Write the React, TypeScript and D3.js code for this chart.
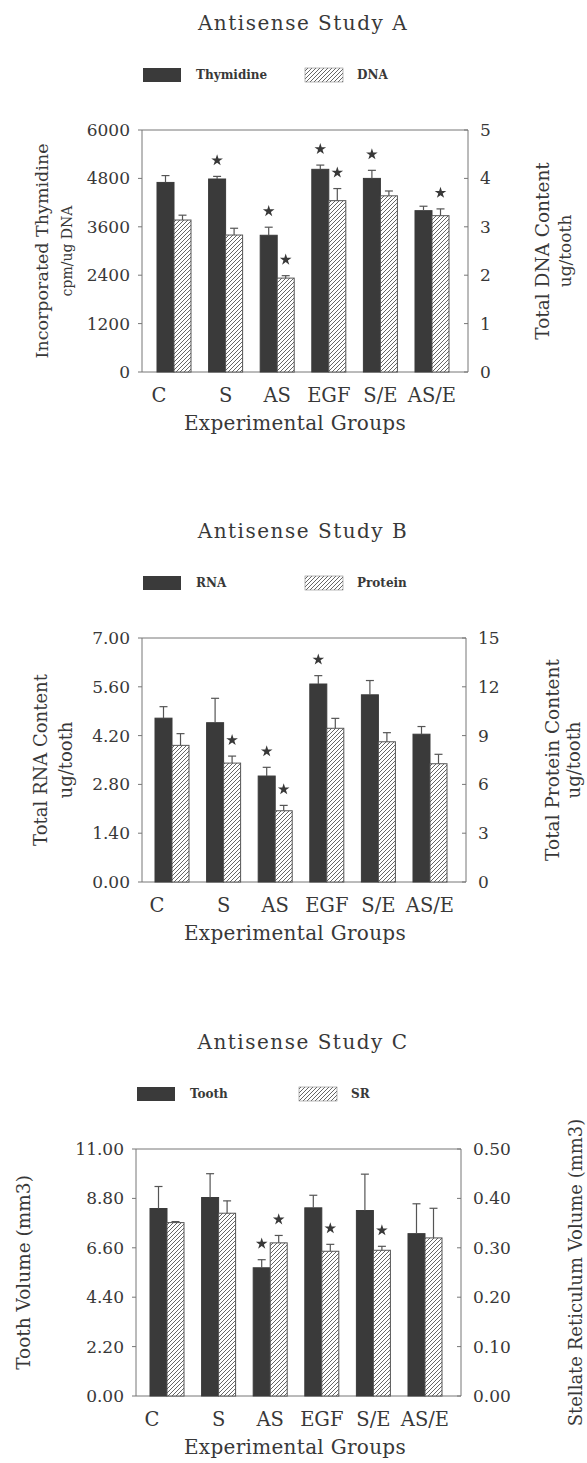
import React from "react";
import * as d3 from "d3";

const groups = ["C", "S", "AS", "EGF", "S/E", "AS/E"];

// Study A
const thymidine = [4700, 4785, 3390, 5025, 4800, 4000];
const thymidineErr = [170, 65, 200, 105, 200, 110];
const thymidineStar = [false, true, true, true, true, false];
const dna = [3.14, 2.83, 1.94, 3.54, 3.64, 3.23];
const dnaErr = [0.1, 0.14, 0.05, 0.25, 0.1, 0.14];
const dnaStar = [false, false, true, true, false, true];
const ticksA_left = [0, 1200, 2400, 3600, 4800, 6000];
const ticksA_right = [0, 1, 2, 3, 4, 5];

// Study B
const rna = [4.7, 4.57, 3.04, 5.68, 5.37, 4.24];
const rnaErr = [0.33, 0.7, 0.25, 0.24, 0.41, 0.22];
const rnaStar = [false, false, true, true, false, false];
const protein = [8.4, 7.31, 4.38, 9.45, 8.62, 7.27];
const proteinErr = [0.72, 0.43, 0.33, 0.61, 0.56, 0.58];
const proteinStar = [false, true, true, false, false, false];
const ticksB_left = [0, 1.4, 2.8, 4.2, 5.6, 7.0];
const ticksB_right = [0, 3, 6, 9, 12, 15];

// Study C
const tooth = [8.35, 8.84, 5.71, 8.38, 8.26, 7.23];
const toothErr = [0.98, 1.06, 0.36, 0.56, 1.62, 1.33];
const toothStar = [false, false, true, false, false, false];
const sr = [0.351, 0.37, 0.31, 0.293, 0.295, 0.32];
const srErr = [0.002, 0.025, 0.015, 0.014, 0.008, 0.06];
const srStar = [false, false, true, true, true, false];
const ticksC_left = [0, 2.2, 4.4, 6.6, 8.8, 11.0];
const ticksC_right = [0, 0.1, 0.2, 0.3, 0.4, 0.5];

const FONT = "'DejaVu Serif', 'Liberation Serif', serif";
const INK = "#383838";
const DARK = "#3a3a3a";
const AXIS = "#777";

type Series = { label: string; values: number[]; err: number[]; star: boolean[] };
type Cfg = {
  title: string;
  s1: Series;
  s2: Series;
  leftTicks: number[];
  rightTicks: number[];
  leftFmt: (v: number) => string;
  rightFmt: (v: number) => string;
  leftTitle: string[];
  rightTitle: string[];
  geo: { left: number; right: number; top: number; bottom: number; barStart: number };
  lt: number[];
  rt: number[];
  ltSize: number[];
  rtSize: number[];
};

const catDx: Record<string, number> = { C: -15 };
const starPath = d3.symbol().type(d3.symbolStar).size(42)() as string;

function Panel({ cfg }: { cfg: Cfg }) {
  const { left, right, top, bottom, barStart } = cfg.geo;
  const x = d3
    .scaleBand<string>()
    .domain(groups)
    .range([barStart, barStart + 292])
    .paddingInner(0.341)
    .paddingOuter(0);
  const xs = d3.scaleBand<string>().domain(["a", "b"]).range([0, x.bandwidth()]);
  const yL = d3
    .scaleLinear()
    .domain([0, cfg.leftTicks[cfg.leftTicks.length - 1]])
    .range([bottom, top]);
  const yR = d3
    .scaleLinear()
    .domain([0, cfg.rightTicks[cfg.rightTicks.length - 1]])
    .range([bottom, top]);
  const midY = (top + bottom) / 2;
  const midX = 303;
  const bw = xs.bandwidth();

  const renderSeries = (s: Series, key: "a" | "b", y: d3.ScaleLinear<number, number>) =>
    groups.map((g, i) => {
      const bx = (x(g) as number) + (xs(key) as number);
      const yt = y(s.values[i]);
      const ye = y(s.values[i] + s.err[i]);
      const cx = bx + bw / 2;
      return (
        <g key={key + g}>
          <rect
            x={bx}
            y={yt}
            width={bw}
            height={bottom - yt}
            fill={key === "a" ? DARK : "url(#hatch)"}
            stroke={key === "a" ? DARK : "#555"}
            strokeWidth={1}
          />
          <line x1={cx} x2={cx} y1={yt} y2={ye} stroke="#555" strokeWidth={1.2} />
          <line x1={cx - 4} x2={cx + 4} y1={ye} y2={ye} stroke="#555" strokeWidth={1.2} />
          {s.star[i] && (
            <path d={starPath} transform={`translate(${cx},${ye - 16})`} fill={INK} />
          )}
        </g>
      );
    });

  return (
    <g fontFamily={FONT} fill={INK}>
      <text
        x={midX}
        y={top - 107}
        textAnchor="middle"
        dominantBaseline="central"
        fontSize={20}
        letterSpacing={1.5}
      >
        {cfg.title}
      </text>
      {/* legend */}
      <rect x={left + 1} y={top - 62} width={38} height={14} fill={DARK} />
      <text x={left + 54} y={top - 55} dominantBaseline="central" fontSize={12} fontWeight={700}>
        {cfg.s1.label}
      </text>
      <rect x={left + 163} y={top - 62} width={38} height={14} fill="url(#hatch)" stroke="#888" strokeWidth={0.6} />
      <text x={left + 215} y={top - 55} dominantBaseline="central" fontSize={12} fontWeight={700}>
        {cfg.s2.label}
      </text>

      {/* frame */}
      <line x1={left} x2={right} y1={top} y2={top} stroke={AXIS} />
      <line x1={left} x2={right} y1={bottom} y2={bottom} stroke={AXIS} />
      <line x1={left} x2={left} y1={top} y2={bottom} stroke={AXIS} />
      <line x1={right} x2={right} y1={top} y2={bottom} stroke={AXIS} />

      {renderSeries(cfg.s1, "a", yL)}
      {renderSeries(cfg.s2, "b", yR)}

      {/* left ticks */}
      {cfg.leftTicks.map((t) => (
        <g key={"l" + t}>
          <line x1={left - 4} x2={left} y1={yL(t)} y2={yL(t)} stroke={AXIS} />
          <text x={left - 12} y={yL(t)} textAnchor="end" dominantBaseline="central" fontSize={17}>
            {cfg.leftFmt(t)}
          </text>
        </g>
      ))}
      {cfg.rightTicks.map((t) => (
        <g key={"r" + t}>
          <line x1={right - 4} x2={right} y1={yR(t)} y2={yR(t)} stroke={AXIS} />
          <text x={right + 12} y={yR(t)} textAnchor="start" dominantBaseline="central" fontSize={17}>
            {cfg.rightFmt(t)}
          </text>
        </g>
      ))}

      {/* category labels */}
      {groups.map((g) => (
        <text
          key={"c" + g}
          x={(x(g) as number) + x.bandwidth() / 2 + (catDx[g] || 0)}
          y={bottom + 23}
          textAnchor="middle"
          dominantBaseline="central"
          fontSize={19.5}
        >
          {g}
        </text>
      ))}
      <text
        x={midX - 8}
        y={bottom + 51}
        textAnchor="middle"
        dominantBaseline="central"
        fontSize={20}
        letterSpacing={0.3}
      >
        Experimental Groups
      </text>

      {/* axis titles */}
      {cfg.leftTitle.map((t, i) => (
        <text
          key={"lt" + i}
          transform={`translate(${cfg.lt[i]},${midY}) rotate(-90)`}
          textAnchor="middle"
          dominantBaseline="central"
          fontSize={cfg.ltSize[i]}
        >
          {t}
        </text>
      ))}
      {cfg.rightTitle.map((t, i) => (
        <text
          key={"rt" + i}
          transform={`translate(${cfg.rt[i]},${midY}) rotate(-90)`}
          textAnchor="middle"
          dominantBaseline="central"
          fontSize={cfg.rtSize[i]}
        >
          {t}
        </text>
      ))}
    </g>
  );
}

const fmtInt = d3.format("d");
const fmt2 = d3.format(".2f");

const panels: Cfg[] = [
  {
    title: "Antisense Study A",
    s1: { label: "Thymidine", values: thymidine, err: thymidineErr, star: thymidineStar },
    s2: { label: "DNA", values: dna, err: dnaErr, star: dnaStar },
    leftTicks: ticksA_left,
    rightTicks: ticksA_right,
    leftFmt: fmtInt,
    rightFmt: fmtInt,
    leftTitle: ["Incorporated Thymidine", "cpm/ug DNA"],
    rightTitle: ["Total DNA Content", "ug/tooth"],
    geo: { left: 142, right: 468, top: 130, bottom: 372, barStart: 157 },
    lt: [42, 67],
    rt: [542, 565],
    ltSize: [17.5, 14],
    rtSize: [18.5, 17],
  },
  {
    title: "Antisense Study B",
    s1: { label: "RNA", values: rna, err: rnaErr, star: rnaStar },
    s2: { label: "Protein", values: protein, err: proteinErr, star: proteinStar },
    leftTicks: ticksB_left,
    rightTicks: ticksB_right,
    leftFmt: fmt2,
    rightFmt: fmtInt,
    leftTitle: ["Total RNA Content", "ug/tooth"],
    rightTitle: ["Total Protein Content", "ug/tooth"],
    geo: { left: 142, right: 466, top: 638, bottom: 882, barStart: 155 },
    lt: [40, 65],
    rt: [552, 573],
    ltSize: [18, 18],
    rtSize: [18.5, 18],
  },
  {
    title: "Antisense Study C",
    s1: { label: "Tooth", values: tooth, err: toothErr, star: toothStar },
    s2: { label: "SR", values: sr, err: srErr, star: srStar },
    leftTicks: ticksC_left,
    rightTicks: ticksC_right,
    leftFmt: fmt2,
    rightFmt: fmt2,
    leftTitle: ["Tooth Volume (mm3)"],
    rightTitle: ["Stellate Reticulum Volume (mm3)"],
    geo: { left: 136, right: 461, top: 1149, bottom: 1396, barStart: 150 },
    lt: [23],
    rt: [575],
    ltSize: [18.5],
    rtSize: [18],
  },
];

export default function App() {
  return (
    <svg
      width={587}
      height={1463}
      style={{ position: "absolute", left: 0, top: 0, background: "#fff" }}
    >
      <defs>
        <pattern id="hatch" patternUnits="userSpaceOnUse" width={4} height={4}>
          <rect width={4} height={4} fill="#fff" />
          <path d="M-1,1 l2,-2 M0,4 l4,-4 M3,5 l2,-2" stroke="#555" strokeWidth={0.9} />
        </pattern>
      </defs>
      <rect width={587} height={1463} fill="#fff" />
      {panels.map((p, i) => (
        <Panel key={i} cfg={p} />
      ))}
    </svg>
  );
}
